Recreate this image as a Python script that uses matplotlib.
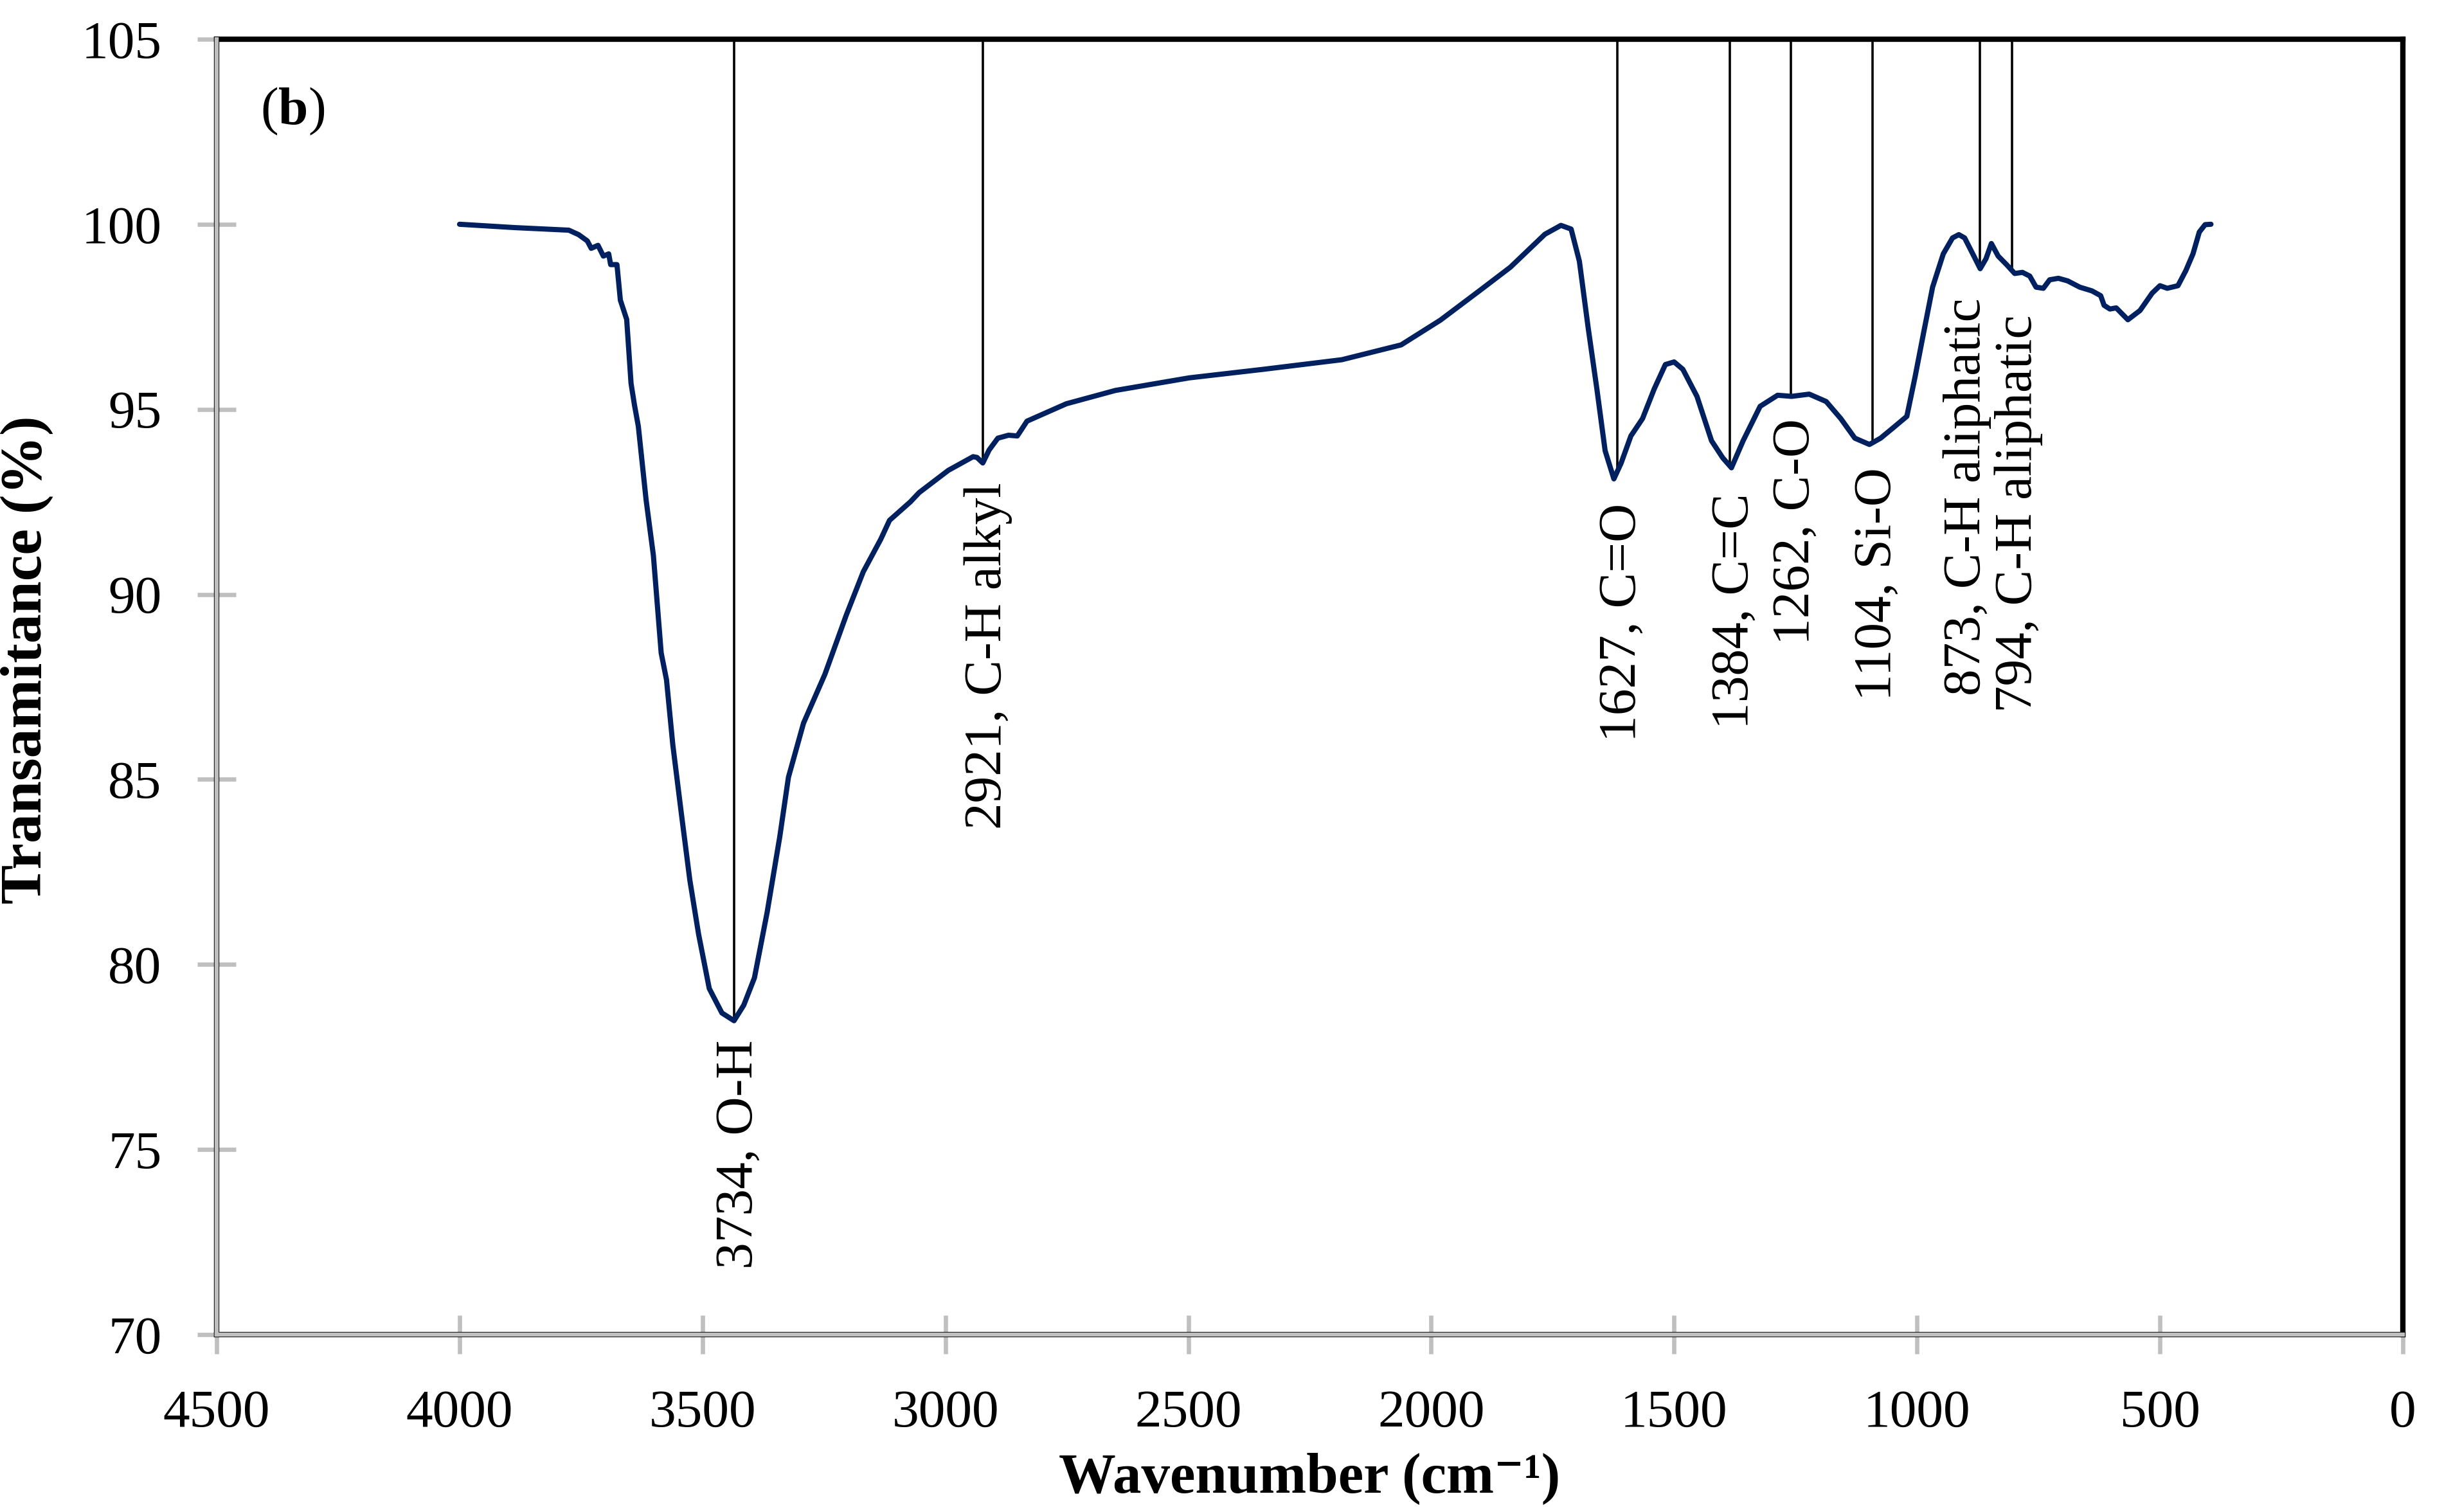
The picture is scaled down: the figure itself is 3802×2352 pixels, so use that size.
import numpy as np
import matplotlib
matplotlib.use("Agg")
import matplotlib.pyplot as plt

# FTIR spectrum (wavenumber cm-1, transmittance %)
wavenumber = [4000, 3887, 3775, 3755, 3737, 3729, 3715, 3704, 3693, 3689, 3676, 3669,
              3662, 3656, 3647, 3640, 3632, 3616, 3601, 3585, 3574, 3561, 3543, 3526,
              3508, 3486, 3460, 3435, 3415, 3393, 3367, 3341, 3323, 3292, 3248, 3204,
              3169, 3133, 3115, 3072, 3054, 2994, 2943, 2935, 2923, 2910, 2892, 2870,
              2852, 2832, 2751, 2650, 2498, 2346, 2184, 2062, 1981, 1900, 1837, 1813,
              1766, 1733, 1712, 1695, 1677, 1659, 1642, 1624, 1609, 1589, 1565, 1541,
              1518, 1500, 1482, 1453, 1423, 1400, 1382, 1358, 1323, 1287, 1258, 1222,
              1187, 1157, 1128, 1098, 1075, 1051, 1021, 1004, 986, 968, 946, 927,
              914, 902, 883, 870, 858, 847, 833, 815, 799, 783, 768, 755,
              740, 727, 709, 690, 665, 640, 622, 615, 603, 590, 566, 541,
              516, 500, 485, 463, 447, 432, 419, 407, 395]
transmittance = [100.0, 99.91, 99.84, 99.72, 99.55, 99.35, 99.43, 99.14, 99.20, 98.91, 98.91, 97.95,
                 97.67, 97.43, 95.70, 95.12, 94.54, 92.55, 91.05, 88.42, 87.69, 85.93, 84.03, 82.28,
                 80.82, 79.35, 78.69, 78.48, 78.90, 79.64, 81.40, 83.44, 85.06, 86.52, 87.84, 89.44,
                 90.61, 91.49, 92.00, 92.50, 92.75, 93.35, 93.72, 93.70, 93.55, 93.90, 94.22, 94.30,
                 94.28, 94.68, 95.15, 95.51, 95.85, 96.08, 96.34, 96.74, 97.41, 98.21, 98.84, 99.14,
                 99.73, 99.97, 99.87, 99.00, 97.21, 95.55, 93.88, 93.12, 93.55, 94.28, 94.75, 95.55,
                 96.21, 96.28, 96.08, 95.35, 94.15, 93.69, 93.42, 94.15, 95.08, 95.38, 95.35, 95.41,
                 95.21, 94.75, 94.22, 94.05, 94.22, 94.48, 94.81, 95.88, 97.10, 98.30, 99.20, 99.63,
                 99.72, 99.63, 99.14, 98.80, 99.07, 99.48, 99.14, 98.90, 98.67, 98.70, 98.60, 98.30,
                 98.27, 98.50, 98.54, 98.47, 98.30, 98.20, 98.07, 97.81, 97.71, 97.74, 97.42, 97.67,
                 98.14, 98.34, 98.27, 98.34, 98.74, 99.20, 99.79, 99.99, 100.0]

# marked bands
peak_pos = [3435, 2923, 1617, 1386, 1260, 1092, 871, 805]
peak_labels = ["3734, O-H", "2921, C-H alkyl", "1627, C=O", "1384, C=C",
               "1262, C-O", "1104, Si-O", "873, C-H aliphatic", "794, C-H aliphatic"]

x_ticks = [4500, 4000, 3500, 3000, 2500, 2000, 1500, 1000, 500, 0]
y_ticks = [70, 75, 80, 85, 90, 95, 100, 105]

# layout of the labels under the curve
label_drop = [0.52, 0.53, 0.85, 0.75, 0.6, 0.67, 0.82, 1.2]
label_dx = [3, 3, 3, 3, 3, 3, -7, 4]

plt.rcParams['font.family'] = ['Liberation Serif', 'DejaVu Serif']
plt.rcParams['mathtext.fontset'] = 'custom'
plt.rcParams['mathtext.rm'] = 'Liberation Serif'
plt.rcParams['mathtext.bf'] = 'Liberation Serif:bold'

fig = plt.figure(figsize=(19.01, 11.76), dpi=200)
ax = fig.add_axes([0.08864, 0.11735, 0.89453, 0.85672])

ax.plot(wavenumber, transmittance, color='#002060', lw=2.9, zorder=3,
        solid_joinstyle='round', solid_capstyle='round')

wn_sorted = np.array(wavenumber[::-1])
tr_sorted = np.array(transmittance[::-1])
line_ends = np.interp(peak_pos, wn_sorted, tr_sorted)
ax.vlines(peak_pos, line_ends, 105, color='black', lw=1.3, zorder=2)

for pos, end, lab, drop, dx in zip(peak_pos, line_ends, peak_labels, label_drop, label_dx):
    ax.annotate(lab, xy=(pos, end - drop), xytext=(dx, 0), textcoords='offset points',
                rotation=90, ha='center', va='top', fontsize=30)

ax.text(4410, 103.05, r"($\mathbf{b}$)", fontsize=30, ha='left', va='center')

ax.set_xlim(4500, 0)
ax.set_ylim(70, 105)
ax.set_xticks(x_ticks)
ax.set_yticks(y_ticks)
ax.tick_params(direction='inout', length=21.5, width=2.4, color='#BFBFBF',
               labelsize=30, pad=20)

for side in ['top', 'right', 'left', 'bottom']:
    ax.spines[side].set_color('black')
    ax.spines[side].set_linewidth(3)
# light grey axis lines over the black frame
ax.plot([4500, 4500], [70, 105], color='#BFBFBF', lw=2.3, clip_on=False, zorder=6)
ax.plot([4500, 0], [70, 70], color='#BFBFBF', lw=2.3, clip_on=False, zorder=6)

fig.text(0.5358, 0.0221, "Wavenumber (cm\u207b\u00b9)", fontsize=32, fontweight='bold',
         ha='center', va='center')
fig.text(0.011, 0.5635, "Transamitance (%)", fontsize=33, fontweight='bold',
         rotation=90, ha='center', va='center')

fig.savefig("out.png", dpi=200)
